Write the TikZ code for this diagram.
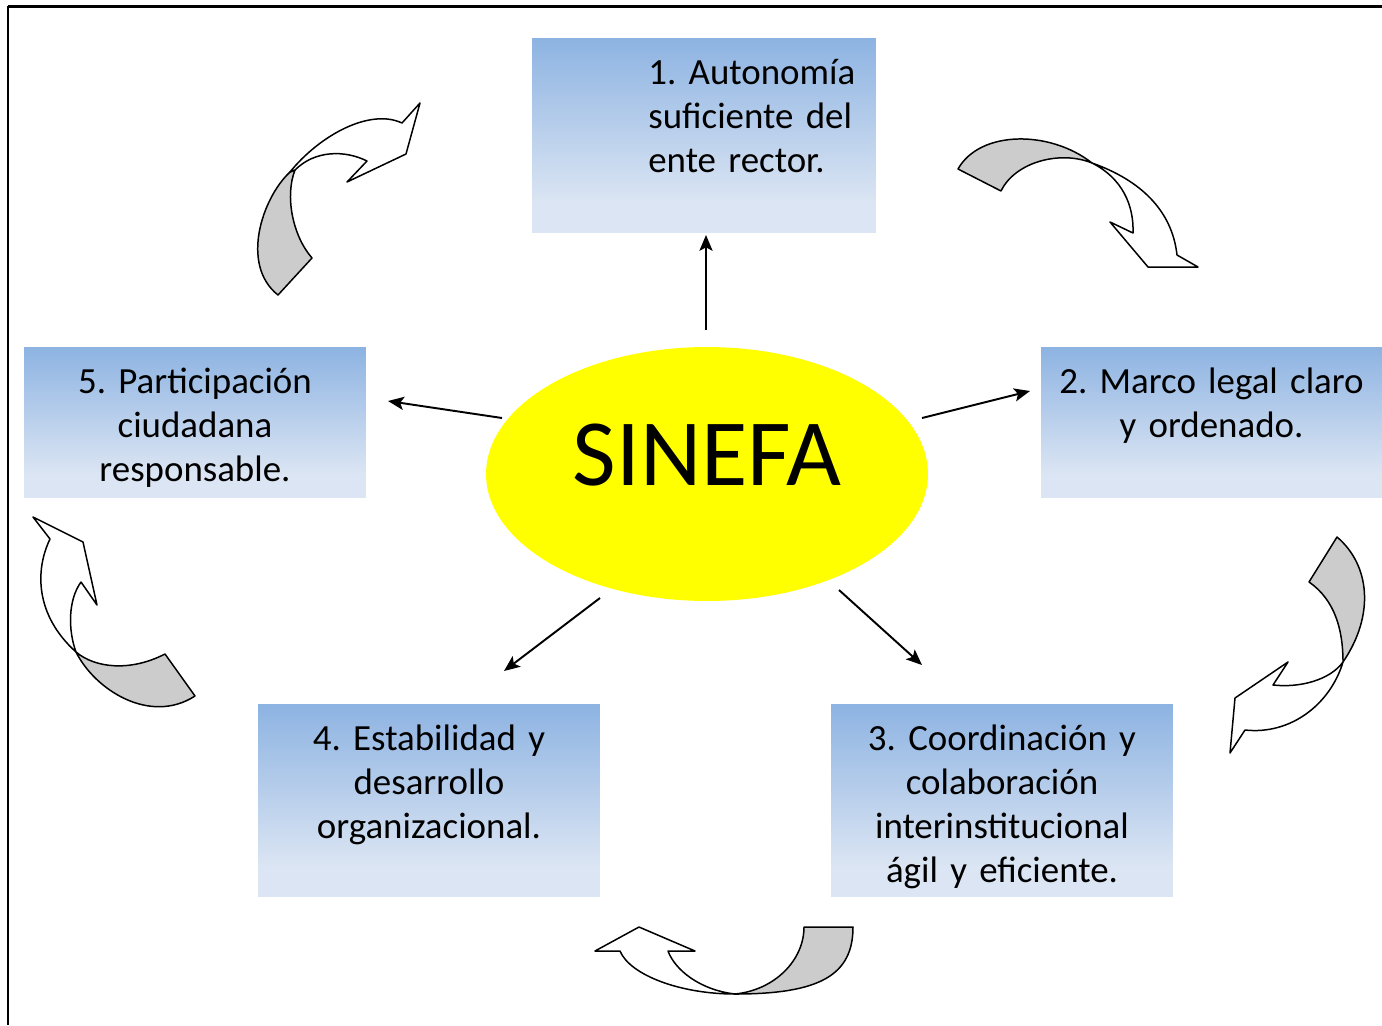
\documentclass[tikz,border=0pt]{standalone}
\usepackage{fontspec}
\setmainfont{Carlito}
\usetikzlibrary{arrows.meta}
\usetikzlibrary{shapes.geometric,positioning}
\definecolor{boxtop}{RGB}{141,179,226}
\definecolor{boxlow}{RGB}{219,229,243}
\definecolor{backside}{RGB}{204,204,204}
\definecolor{hubfill}{RGB}{255,255,0}
\pgfdeclareverticalshading{boxshade}{100bp}{color(0bp)=(boxlow); color(25bp)=(boxlow); color(33bp)=(boxlow); color(75bp)=(boxtop); color(100bp)=(boxtop)}

\begin{document}
\begin{tikzpicture}[
    x=0.02cm, y=-0.02cm,
    box/.style={
        rectangle,
        shading=boxshade,
        inner sep=0pt
    },
    boxtext/.style={
        inner sep=0pt,
        text width=6.6cm,
        align=center,
        font=\fontsize{21}{25.2}\selectfont\frenchspacing
    },
    hub/.style={
        ellipse, fill=hubfill,
        inner sep=0pt,
        minimum width=8.84cm, minimum height=5.08cm,
        text depth=22pt,
        font=\fontsize{54}{60}\selectfont
    },
    arr/.style={-{Stealth[length=9pt,width=7.5pt,inset=2pt]}, line width=1.1pt},
    twist/.style={draw, line width=0.85pt, fill=backside, line join=round},
    band/.style={draw, line width=0.85pt, fill=white, line join=round}
]
\useasboundingbox (0,0) rectangle (1382,1025);
\draw[line width=1.2pt] (8,6.5) -- (1382,6.5);
\draw[line width=0.8pt] (8,6) -- (8,1025);

\node[box, minimum width=6.88cm, minimum height=3.9cm] (b1) at (704,135.5) {};
\node[box, minimum width=6.82cm, minimum height=3.02cm] (b2) at (1211.5,422.5) {};
\node[box, minimum width=6.84cm, minimum height=3.86cm] (b3) at (1002,800.5) {};
\node[box, minimum width=6.84cm, minimum height=3.86cm] (b4) at (429,800.5) {};
\node[box, minimum width=6.84cm, minimum height=3.02cm] (b5) at (195,422.5) {};

\node[boxtext, align=left, text width=5cm, anchor=north west] (t1) at (648,53)
    {\strut 1. Autonomía\\ suficiente del\\ ente rector.};
\node[boxtext, below=0.3cm of b2.north] (t2) {\strut 2. Marco legal claro\\ y ordenado.};
\node[boxtext, below=0.3cm of b3.north] (t3)
    {\strut 3. Coordinación y\\ colaboración\\ interinstitucional\\ ágil y eficiente.};
\node[boxtext, below=0.3cm of b4.north] (t4) {\strut 4. Estabilidad y\\ desarrollo\\ organizacional.};
\node[boxtext, below=0.3cm of b5.north] (t5) {\strut 5. Participación\\ ciudadana\\ responsable.};

\node[hub] (sinefa) at (707,474) {SINEFA};

\coordinate (s1) at (706,330);  \coordinate (e1) at (706,235);
\coordinate (s2) at (922,418);  \coordinate (e2) at (1030,391);
\coordinate (s3) at (839,590);  \coordinate (e3) at (922,665);
\coordinate (s4) at (600,598);  \coordinate (e4) at (504,671);
\coordinate (s5) at (502,418);  \coordinate (e5) at (388,401);
\draw[arr] (s1) -- (e1);
\draw[arr] (s2) -- (e2);
\draw[arr] (s3) -- (e3);
\draw[arr] (s4) -- (e4);
\draw[arr] (s5) -- (e5);

\draw[twist] (290,172) .. controls (262,198) and (240,265) .. (278,295) -- (312,258)
    .. controls (292,235) and (285,195) .. (295,170) -- cycle;
\draw[band] (290,172) .. controls (320,135) and (370,108) .. (402,123) -- (420,103) -- (406,154)
    -- (347,182) -- (367,161) .. controls (345,150) and (315,150) .. (295,170) -- cycle;

\draw[twist] (1092,163) .. controls (1050,130) and (980,130) .. (958,169) -- (1001,191)
    .. controls (1015,162) and (1060,150) .. (1092,163) -- cycle;
\draw[band] (1092,163) .. controls (1122,178) and (1134,205) .. (1133,233) -- (1110,222) -- (1148,267)
    -- (1198,267) -- (1177,255) .. controls (1172,210) and (1140,180) .. (1092,163) -- cycle;

\draw[twist] (1337,537) .. controls (1370,565) and (1375,615) .. (1343,662)
    .. controls (1343,630) and (1335,600) .. (1309,582) -- cycle;
\draw[band] (1343,662) .. controls (1330,680) and (1300,688) .. (1273,685) -- (1288,662) -- (1235,698)
    -- (1230,753) -- (1245,730) .. controls (1290,735) and (1330,705) .. (1343,662) -- cycle;

\draw[twist] (804,927) -- (853,927) .. controls (853,975) and (820,994) .. (735,994)
    .. controls (775,990) and (804,960) .. (804,927) -- cycle;
\draw[band] (735,994) .. controls (680,994) and (630,975) .. (620,951) -- (595,951) -- (639,927)
    -- (695,951) -- (668,951) .. controls (675,970) and (700,990) .. (735,994) -- cycle;

\draw[twist] (76,652) .. controls (95,690) and (150,725) .. (195,696) -- (165,654)
    .. controls (130,672) and (95,668) .. (76,652) -- cycle;
\draw[band] (76,652) .. controls (35,615) and (35,570) .. (50,539) -- (33,517) -- (83,542)
    -- (97,605) -- (81,582) .. controls (68,600) and (68,630) .. (76,652) -- cycle;
\end{tikzpicture}
\end{document}
